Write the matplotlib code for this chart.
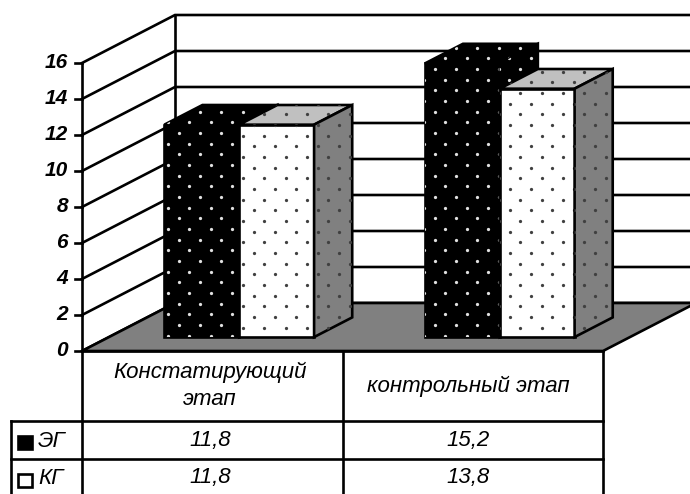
import numpy as np
import matplotlib
matplotlib.use('Agg')
import matplotlib.pyplot as plt
from matplotlib.patches import Polygon
from matplotlib.transforms import Affine2D

categories = ['Констатирующий\nэтап', 'контрольный этап']
series_names = ['ЭГ', 'КГ']
eg_values = [11.8, 15.2]
kg_values = [11.8, 13.8]
value_labels = [['11,8', '15,2'], ['11,8', '13,8']]
y_ticks = [0, 2, 4, 6, 8, 10, 12, 14, 16]

W, H = 690, 494
X0, Y0 = 82, 351  # front corner of the plot, pixels
CAT_W = 260.5
UNIT = 18.0
DX, DY = 93, 48  # full depth of the box, pixels
BAR_W = 0.2874
BAR_D0, BAR_D1 = 0.29, 0.70
LW = 1.9

plt.rcParams['font.family'] = ['Liberation Sans', 'DejaVu Sans']

fig = plt.figure(figsize=(W / 100, H / 100), dpi=100)
ax = fig.add_axes([0, 0, 1, 1])
# x in categories, y in chart values
ax.set_xlim((0 - X0) / CAT_W, (W - X0) / CAT_W)
ax.set_ylim((Y0 - H) / UNIT, Y0 / UNIT)
ax.axis('off')

pix = Affine2D().scale(1, -1).translate(0, H)  # top-left pixel coordinates


def proj(x, v, d=0.0):
    # oblique projection, d is depth 0..1
    return (x + d * DX / CAT_W, v + d * DY / UNIT)


def lattice(x0, y0, px=21.33, py=10.667):
    rows = np.arange(-50, 50)
    cols = np.arange(-40, 40)
    xs, ys = [], []
    for j in rows:
        for i in cols:
            xs.append(x0 + px * i + (px / 2) * (j % 2))
            ys.append(y0 + py * j)
    return np.array(xs), np.array(ys)


def face(points, color, dot_color, anchor, z):
    poly = Polygon(points, closed=True, facecolor=color, edgecolor='black',
                   lw=LW, joinstyle='miter', zorder=z)
    ax.add_patch(poly)
    xs, ys = lattice(*anchor)
    sc = ax.scatter(xs, ys, s=5.5, c=dot_color, linewidths=0, transform=pix, zorder=z)
    sc.set_clip_path(poly)


def draw_bar(x, v, front, top, side, dot_color, anchor, z):
    x2 = x + BAR_W
    face([proj(x, 0, BAR_D0), proj(x2, 0, BAR_D0), proj(x2, v, BAR_D0), proj(x, v, BAR_D0)],
         front, dot_color, anchor, z)
    face([proj(x, v, BAR_D0), proj(x2, v, BAR_D0), proj(x2, v, BAR_D1), proj(x, v, BAR_D1)],
         top, dot_color, anchor, z)
    face([proj(x2, 0, BAR_D0), proj(x2, 0, BAR_D1), proj(x2, v, BAR_D1), proj(x2, v, BAR_D0)],
         side, dot_color, anchor, z)


# walls
top = y_ticks[-1]
for t in y_ticks:
    ax.plot(*zip(proj(0, t), proj(0, t, 1), proj(3, t, 1)), color='black', lw=LW, zorder=1,
            solid_joinstyle='miter')
    ax.plot([(X0 - 7 - X0) / CAT_W, 0], [t, t], color='black', lw=LW, zorder=1)
    ax.text((68 - X0) / CAT_W, t, str(t), ha='right', va='center', fontsize=15,
            fontweight='bold', fontstyle='italic')
ax.plot(*zip(proj(0, 0), proj(0, top)), color='black', lw=LW, zorder=1)
ax.plot(*zip(proj(0, 0, 1), proj(0, top, 1)), color='black', lw=LW, zorder=1)

# floor
ax.add_patch(Polygon([proj(0, 0), proj(0, 0, 1), proj(2, 0, 1), proj(2, 0)], closed=True,
                     facecolor='#808080', edgecolor='black', lw=LW, zorder=2))

# bars
for i in range(len(categories)):
    x = i + 0.5 - BAR_W
    draw_bar(x, eg_values[i], 'black', 'black', 'black', '#e0e0e0', (178.7, 133), 3 + i)
    draw_bar(x + BAR_W, kg_values[i], 'white', '#c0c0c0', '#808080', '#404040', (264.3, 135.7), 3 + i)

# data table, runs off the bottom of the picture
TX = [11, 82, 343, 603]
TY = [351, 421, 459, 497]
tlines = [
    ([TX[1], TX[3]], [TY[0], TY[0]]),
    ([TX[0], TX[3]], [TY[1], TY[1]]),
    ([TX[0], TX[3]], [TY[2], TY[2]]),
    ([TX[0], TX[0]], [TY[1], TY[3]]),
    ([TX[1], TX[1]], [TY[0], TY[3]]),
    ([TX[2], TX[2]], [TY[0], TY[3]]),
    ([TX[3], TX[3]], [TY[0], TY[3]]),
]
for xs, ys in tlines:
    ax.plot(xs, ys, color='black', lw=LW, transform=pix, zorder=6, solid_capstyle='projecting')

txt = dict(fontsize=16, fontstyle='italic', ha='center', va='center', transform=pix, zorder=7)
row_y = [440, 477]
col_x = [210, 468]
for i, cat in enumerate(categories):
    ax.text(col_x[i], (TY[0] + TY[1]) / 2, cat, linespacing=1.35, **txt)
    for r in range(2):
        ax.text(col_x[i], row_y[r], value_labels[r][i], **txt)

key_colors = ['black', 'white']
for r, name in enumerate(series_names):
    cy = row_y[r] + 2 + r
    ax.add_patch(Polygon([(18, cy - 6.5), (32, cy - 6.5), (32, cy + 6.5), (18, cy + 6.5)], closed=True,
                         facecolor=key_colors[r], edgecolor='black', lw=LW, transform=pix, zorder=7))
    ax.text(38, row_y[r] + 1, name, fontsize=16, fontstyle='italic', ha='left', va='center',
            transform=pix, zorder=7)

fig.savefig('out.png', dpi=100, facecolor='white')
